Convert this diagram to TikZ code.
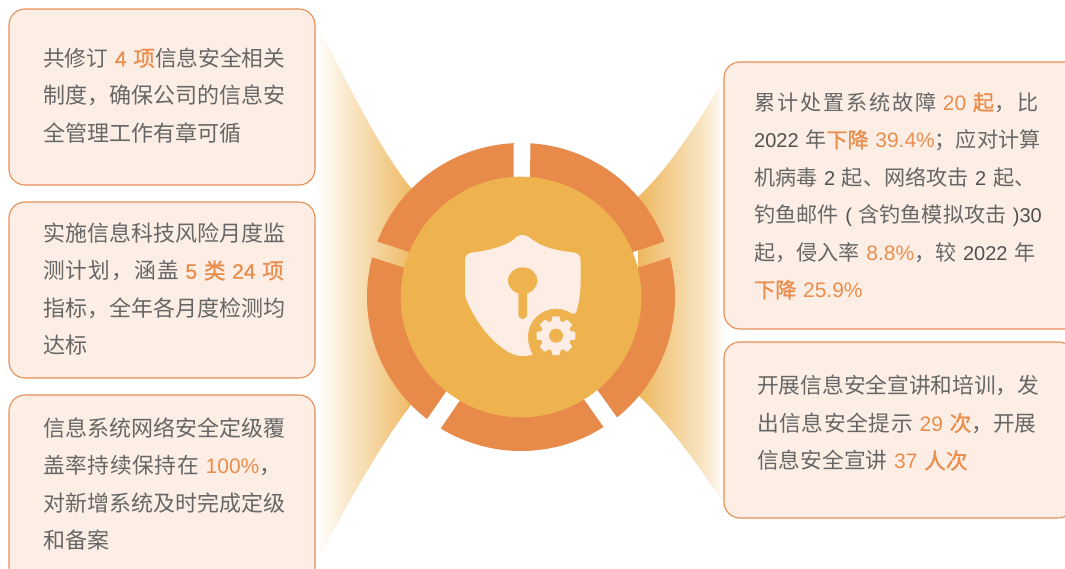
\documentclass[tikz,border=0pt]{standalone}
\usepackage{fontspec}
\setmainfont{Liberation Sans}
\newfontfamily\cjk{Noto Sans CJK SC}[Scale=1.1]
\newfontfamily\cjkn{Noto Sans CJK SC}[Scale=1.085]
\newfontfamily\cjkr{Noto Sans CJK SC}[Scale=1.055]
\newfontfamily\cjkrw{Noto Sans CJK SC}[Scale=1.055,LetterSpace=9]
\newfontfamily\cjkb{Noto Sans CJK SC}[Scale=1.085,FakeBold=1.2]
\newfontfamily\cjkrb{Noto Sans CJK SC}[Scale=1.055,FakeBold=1.2]
\newfontfamily\cjkwa{Noto Sans CJK SC}[Scale=1.085,LetterSpace=3]
\newfontfamily\cjkwc{Noto Sans CJK SC}[Scale=1.085,LetterSpace=5]
\newfontfamily\latinb{Liberation Sans}[FakeBold=1.2]
\definecolor{ringorange}{HTML}{E88A4A}
\definecolor{coreyellow}{HTML}{EEB24F}
\definecolor{boxfill}{HTML}{FCEEE4}
\definecolor{boxline}{HTML}{E68E55}
\definecolor{cjkgray}{HTML}{666666}
\definecolor{latingray}{HTML}{505050}
\definecolor{hilite}{HTML}{EA8E4E}
\definecolor{funnelend}{HTML}{EEB85F}
\pgfdeclarehorizontalshading{funnelshadeR}{100bp}{
  color(0bp)=(funnelend); color(25bp)=(funnelend);
  rgb(60.6bp)=(0.973,0.89,0.745); rgb(67bp)=(0.984,0.93,0.847);
  color(75bp)=(white); color(100bp)=(white)}
\newcommand{\zh}[1]{{\cjk\color{cjkgray}#1}}
\newcommand{\zhn}[1]{{\cjkn\color{cjkgray}#1}}
\newcommand{\zhr}[1]{{\cjkr\color{cjkgray}#1}}
\newcommand{\zhrw}[1]{{\cjkrw\color{cjkgray}#1}}
\newcommand{\zha}[1]{{\cjkwa\color{cjkgray}#1}}
\newcommand{\zhc}[1]{{\cjkwc\color{cjkgray}#1}}
\newcommand{\hl}[1]{{\fontsize{21pt}{37.5pt}\selectfont\color{hilite}#1}}
\newcommand{\hlb}[1]{{\fontsize{21pt}{37.5pt}\selectfont\latinb\color{hilite}#1}}
\newcommand{\zhb}[1]{{\cjkb\color{hilite}#1}}
\newcommand{\zhrb}[1]{{\cjkrb\color{hilite}#1}}
\newcommand{\fullline}[1]{\hbox to \hsize{\rule{0pt}{20pt}#1\unskip}}
\newcommand{\lastline}[1]{\hbox{\rule{0pt}{20pt}#1}}
\tikzset{
  infobox/.style={draw=boxline,fill=boxfill,line width=1.1pt,rounded corners=16pt},
  infotext/.style={anchor=north west,inner sep=0pt,font=\fontsize{20pt}{37.5pt}\selectfont,color=latingray,
    execute at begin node={\hbadness=10000\hfuzz=20pt}},
  funnelL/.style={left color=white,right color=funnelend},
  funnelR/.style={shading=funnelshadeR},
  segment/.style={fill=ringorange},
  pale/.style={fill=boxfill}
}
\begin{document}
\begin{tikzpicture}[x=1pt,y=-1pt]
\path[clip] (0,0) rectangle (1065,568);
% funnels
\shade[funnelL] (316,22) .. controls (350,88) and (380,150) .. (411,188) -- (415,188) -- (415,405) -- (411,405)
   .. controls (380,445) and (350,500) .. (316,562) -- cycle;
\shade[funnelR] (638,197) .. controls (670,167) and (700,120) .. (725,77) -- (725,505)
   .. controls (695,460) and (665,420) .. (638,395) -- cycle;
% boxes
\draw[infobox] (9,9) rectangle (315,185);
\draw[infobox] (9,202) rectangle (315,378);
\draw[infobox] (9,395) rectangle (315,583);
\draw[infobox] (724,62) rectangle (1085,329);
\draw[infobox] (724,342) rectangle (1074,518);
% left texts
\node[infotext,text width=243pt] (t1) at (43,46) {%
 \fullline{\zhn{共修订} \hlb{4} \zhb{项}\zhn{信息安全相关}}
 \fullline{\zh{制度，确保公司的信息安}}
 \lastline{\zh{全管理工作有章可循}}};
\node[infotext,text width=243pt] (t2) at (43,221) {%
 \fullline{\zh{实施信息科技风险月度监}}
 \fullline{\zhc{测计划，涵盖} \hlb{5} \zhb{类} \hlb{24} \zhb{项}}
 \fullline{\zh{指标，全年各月度检测均}}
 \lastline{\zh{达标}}};
\node[infotext,text width=243pt] (t3) at (43,416) {%
 \fullline{\zh{信息系统网络安全定级覆}}
 \fullline{\zha{盖率持续保持在} \hl{100\%}\zhn{，}}
 \fullline{\zh{对新增系统及时完成定级}}
 \lastline{\zh{和备案}}};
% right texts
\node[infotext,text width=286pt] (t4) at (754,90) {%
 \fullline{\zhrw{累计处置系统故障} \hl{20} \zhrb{起}\zhrw{，比}}
 \fullline{2022 \zhr{年}\zhrb{下降} \hl{39.4\%}\zhr{；应对计算}}
 \fullline{\zhr{机病毒} 2 \zhr{起、网络攻击} 2 \zhr{起、}}
 \fullline{\zhr{钓鱼邮件} ( \zhr{含钓鱼模拟攻击} )30}
 \fullline{\zhr{起，侵入率} \hl{8.8\%}\zhr{，较} 2022 \zhr{年}}
 \lastline{\zhrb{下降} \hl{25.9\%}}};
\node[infotext,text width=284pt] (t5) at (757,373.5) {%
 \fullline{\zhn{开展信息安全宣讲和培训，发}}
 \fullline{\zha{出信息安全提示} \hl{29} \zhb{次}\zhn{，开展}}
 \lastline{\zhn{信息安全宣讲} \hl{37} \zhb{人次}}};
% ring
\begin{scope}[shift={(521,297)},y=1pt]
 \foreach \g/\h in {89.6/18,18/-54.5,-54.5/-124.5,-124.5/-198,162/89.6}{
  \pgfmathsetmacro{\ga}{\g-3.1}
  \pgfmathsetmacro{\gb}{\h+3.1}
  \pgfmathsetmacro{\gc}{\h+4.0}
  \pgfmathsetmacro{\gd}{\g-4.0}
  \fill[segment] (\ga:154pt) arc[start angle=\ga,end angle=\gb,radius=154pt] -- (\gc:118pt) -- (\gd:118pt) -- cycle;
 }
 \fill[coreyellow] (0,0) circle[radius=120.3pt];
\end{scope}
% shield icon, in coordinates of a 3x crop
\begin{scope}[shift={(340,120)},x=0.33333pt,y=-0.33333pt]
 \fill[pale] (548,345) .. controls (535,345) and (530,350) .. (522,358)
   .. controls (505,375) and (440,394) .. (400,397)
   .. controls (384,398) and (375,406) .. (375,422)
   -- (375,520) .. controls (375,530) and (378,535) .. (382,545)
   .. controls (415,625) and (490,708) .. (547,708)
   .. controls (558,708) and (570,707) .. (578,703)
   .. controls (568,690) and (563,665) .. (564,645)
   .. controls (566,600) and (605,566) .. (648,566)
   .. controls (668,566) and (682,572) .. (695,580)
   .. controls (702,584) and (706,582) .. (709,574)
   .. controls (718,545) and (722,515) .. (722,480)
   -- (722,422) .. controls (722,406) and (712,398) .. (698,397)
   .. controls (655,392) and (610,385) .. (572,355)
   .. controls (565,349) and (558,345) .. (548,345) -- cycle;
 \fill[coreyellow,rounded corners=4pt] (535,490) rectangle (561,597);
 \fill[coreyellow] (548,482) ellipse[x radius=44,y radius=40];
 \fill[pale] (648,647) circle[radius=46];
 \foreach \t in {0,45,...,315}{
  \fill[pale,rounded corners=1pt,rotate around={\t:(648,647)}] (632,640) -- (636,589) -- (660,589) -- (664,640) -- cycle;
 }
 \fill[coreyellow] (648,647) circle[radius=21];
\end{scope}
\end{tikzpicture}
\end{document}
